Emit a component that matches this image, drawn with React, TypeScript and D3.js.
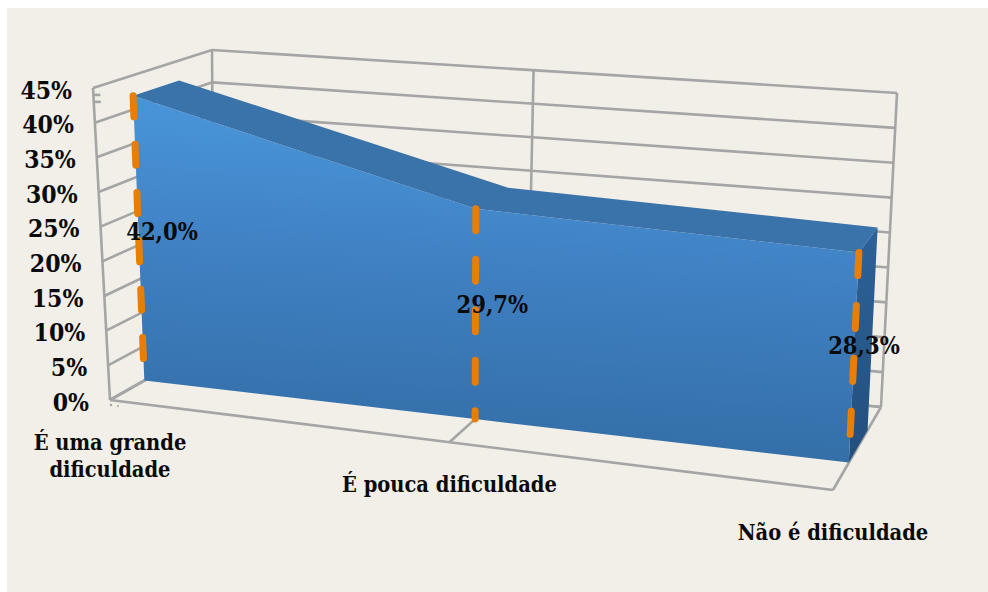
import React from "react";
import * as d3 from "d3";

const categories = [["É uma grande", "dificuldade"], ["É pouca dificuldade"], ["Não é dificuldade"]];
const values = [42.0, 29.7, 28.3];
const valueLabels = ["42,0%", "29,7%", "28,3%"];
const valueTicks = [0, 5, 10, 15, 20, 25, 30, 35, 40, 45];
const tickLabels = ["0%", "5%", "10%", "15%", "20%", "25%", "30%", "35%", "40%", "45%"];

const W = 988;
const H = 592;
const FONT = "'DejaVu Serif Condensed', 'DejaVu Serif', serif";

type P = [number, number];

// Screen corners of the chart's 3D box: bottom / top, front / back, left / right.
const floorFrontLeft: P = [110, 400];
const floorFrontRight: P = [833, 490];
const floorBackLeft: P = [214, 341];
const floorBackRight: P = [881, 407];
const topFrontLeft: P = [93, 88];
const topFrontRight: P = [849, 146];
const topBackLeft: P = [212, 50];
const topBackRight: P = [897, 93];

// Foreshortening along the category axis.
const PERSPECTIVE = 1.13;
const RIBBON_FRONT = 0.33;
const RIBBON_BACK = 0.72;
const LABEL_DEPTH = 0.54;

const yNorm = d3.scaleLinear().domain([0, 45]).range([0, 1]);
const xNorm = d3.scalePoint<number>().domain(d3.range(categories.length)).range([0, 1]);

const mix = (a: P, b: P, t: number): P => [a[0] + (b[0] - a[0]) * t, a[1] + (b[1] - a[1]) * t];

// Maps (across 0..1, value, depth 0..1) to the page.
function project(across: number, value: number, depth: number): P {
  const u = across / (across + (1 - across) * PERSPECTIVE);
  const v = yNorm(value);
  const bottom = mix(mix(floorFrontLeft, floorFrontRight, u), mix(floorBackLeft, floorBackRight, u), depth);
  const top = mix(mix(topFrontLeft, topFrontRight, u), mix(topBackLeft, topBackRight, u), depth);
  return mix(bottom, top, v);
}

const polyline = d3.line<P>();
const polygon = (pts: P[]) => polyline(pts) + "Z";
const across = (i: number) => xNorm(i) as number;

function GridLine({ a, b }: { a: P; b: P }) {
  return <line x1={a[0]} y1={a[1]} x2={b[0]} y2={b[1]} stroke="#a5a5a5" strokeWidth={2.6} />;
}

// Dash length follows the local value scale, so dashes stay even in perspective.
function DropLine({ index }: { index: number }) {
  const top = project(across(index), values[index], RIBBON_FRONT);
  const bottom = project(across(index), 0, RIBBON_FRONT);
  const perUnit = Math.hypot(top[0] - bottom[0], top[1] - bottom[1]) / values[index];
  return (
    <line
      x1={top[0]}
      y1={top[1]}
      x2={bottom[0]}
      y2={bottom[1]}
      stroke="#e97e06"
      strokeWidth={7}
      strokeLinecap="round"
      strokeDasharray={`${perUnit * 3.1} ${perUnit * 4.03}`}
    />
  );
}

export default function App() {
  const idx = d3.range(values.length);
  const frontTop = idx.map((i) => project(across(i), values[i], RIBBON_FRONT));
  const backTop = idx.map((i) => project(across(i), values[i], RIBBON_BACK));
  const frontBase = idx.map((i) => project(across(i), 0, RIBBON_FRONT));
  const last = idx.length - 1;

  const frontFace = polygon([...frontTop, ...[...frontBase].reverse()]);
  const topFace = polygon([...frontTop, ...[...backTop].reverse()]);
  const sideFace = polygon([
    frontTop[last],
    backTop[last],
    project(1, 0, RIBBON_BACK),
    frontBase[last],
  ]);

  const text = { fontFamily: FONT, fontWeight: 700, fill: "#0b0b0b" } as const;
  const corner = project(0, 0, 0);

  return (
    <svg
      width={W}
      height={H}
      viewBox={`0 0 ${W} ${H}`}
      style={{ position: "absolute", left: 0, top: 0, background: "#ffffff" }}
    >
      <defs>
        <linearGradient id="front" gradientUnits="userSpaceOnUse" x1={480} y1={100} x2={462} y2={440}>
          <stop offset="0" stopColor="#4a97dc" />
          <stop offset="0.5" stopColor="#3f80c2" />
          <stop offset="1" stopColor="#346fa8" />
        </linearGradient>
        <linearGradient id="side" gradientUnits="userSpaceOnUse" x1={870} y1={230} x2={858} y2={460}>
          <stop offset="0" stopColor="#2c6298" />
          <stop offset="1" stopColor="#234f7c" />
        </linearGradient>
      </defs>

      <rect x={7} y={8} width={981} height={584} fill="#f1efe7" />

      <g>
        {/* Back wall */}
        {valueTicks.map((v) => (
          <GridLine key={`back-${v}`} a={project(0, v, 1)} b={project(1, v, 1)} />
        ))}
        {idx.map((i) => (
          <GridLine key={`vert-${i}`} a={project(across(i), 0, 1)} b={project(across(i), 45, 1)} />
        ))}
        {/* Left wall */}
        {valueTicks.map((v) => (
          <GridLine key={`left-${v}`} a={project(0, v, 0)} b={project(0, v, 1)} />
        ))}
        <GridLine a={project(0, 0, 0)} b={project(0, 45, 0)} />
        {/* Short minor marks just under the top of the value axis */}
        {[44, 43].map((v) => {
          const a = project(0, v, 0);
          return <GridLine key={`stub-${v}`} a={a} b={[a[0] + 7, a[1]]} />;
        })}
        {/* Floor */}
        {idx.map((i) => (
          <GridLine key={`floor-${i}`} a={project(across(i), 0, 0)} b={project(across(i), 0, 1)} />
        ))}
        <GridLine a={project(0, 0, 0)} b={project(1, 0, 0)} />
        <GridLine a={project(0, 0, 1)} b={project(1, 0, 1)} />
        {/* Two specks below the axis corner */}
        <circle cx={corner[0] + 1} cy={corner[1] + 5} r={1.2} fill="#a5a5a5" />
        <circle cx={corner[0] + 8} cy={corner[1] + 6} r={1} fill="#a5a5a5" />
      </g>

      <path d={sideFace} fill="url(#side)" />
      <path d={frontFace} fill="url(#front)" />
      <path d={topFace} fill="#3a72aa" />

      {idx.map((i) => (
        <DropLine key={`drop-${i}`} index={i} />
      ))}

      {valueTicks.map((v, i) => {
        const [x, y] = project(0, v, 0);
        return (
          <text key={`tick-${v}`} {...text} fontSize={24.5} x={x - 21} y={y + 10.5} textAnchor="end">
            {tickLabels[i]}
          </text>
        );
      })}

      {idx.map((i) => {
        const [x, y] = project(across(i), values[i] / 2, LABEL_DEPTH);
        return (
          <text key={`value-${i}`} {...text} fontSize={23.5} x={x} y={y + 12} textAnchor="middle">
            {valueLabels[i]}
          </text>
        );
      })}

      {categories.map((lines, i) => {
        const [x, y] = project(across(i), 0, 0);
        return (
          <text key={`cat-${i}`} {...text} fontSize={21.7} textAnchor="middle">
            {lines.map((line, j) => (
              <tspan key={j} x={x} y={y + 50 + j * 27}>
                {line}
              </tspan>
            ))}
          </text>
        );
      })}
    </svg>
  );
}
